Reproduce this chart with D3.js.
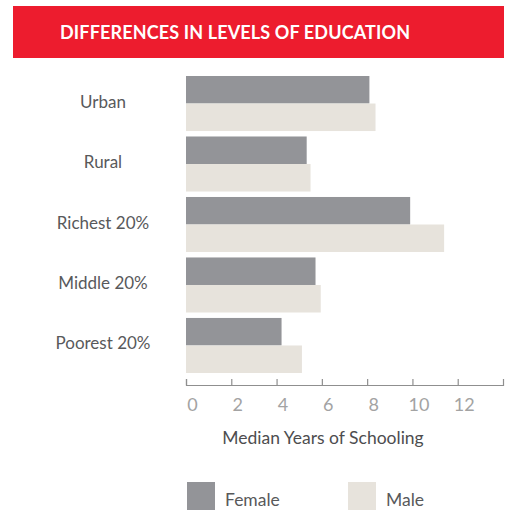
<!DOCTYPE html>
<html>
<head>
<meta charset="utf-8">
<script src="https://cdn.jsdelivr.net/npm/d3@7"></script>
<style>
  body { margin: 0; background: #fff; }
  svg { display: block; font-family: Lato, "Open Sans", sans-serif; }
</style>
</head>
<body>
<svg width="512" height="510"></svg>
<script>
let categories = ["Urban", "Rural", "Richest 20%", "Middle 20%", "Poorest 20%"];
let seriesNames = ["Female", "Male"];
let female = [8.1, 5.33, 9.9, 5.72, 4.22];
let male = [8.37, 5.5, 11.4, 5.95, 5.12];
let tickLabels = [0, 2, 4, 6, 8, 10, 12];
let title = "DIFFERENCES IN LEVELS OF EDUCATION";
let xTitle = "Median Years of Schooling";

let drawChart = function() {
	const colors = {Female: "#939498", Male: "#e7e3dc"};

	let svg = d3.select("svg");

	// title banner
	svg.append("rect")
		.attr("x", 13)
		.attr("y", 6)
		.attr("width", 491)
		.attr("height", 52)
		.attr("fill", "#ed1c2e");

	svg.append("text")
		.attr("x", 60)
		.attr("y", 39)
		.attr("fill", "#fff")
		.attr("textLength", 350)
		.attr("lengthAdjust", "spacing")
		.style("font-size", "18px")
		.style("font-weight", "bold")
		.text(title);

	let xScale = d3.scaleLinear()
		.domain([0, 14])
		.range([186, 503]);

	let yScale = d3.scaleBand()
		.domain(categories)
		.range([76, 373])
		.paddingInner(0.09)
		.paddingOuter(0);

	let subScale = d3.scaleBand()
		.domain(seriesNames)
		.range([0, yScale.bandwidth()]);

	let rows = categories.map((c, i) => ({cat: c, Female: female[i], Male: male[i]}));

	let groups = svg.selectAll("g.group")
		.data(rows)
		.enter()
		.append("g")
			.classed("group", true)
			.attr("transform", d => `translate(0, ${yScale(d.cat)})`);

	groups.selectAll("rect")
		.data(d => seriesNames.map(s => ({key: s, value: d[s]})))
		.enter()
		.append("rect")
			.attr("x", xScale(0))
			.attr("y", d => subScale(d.key))
			.attr("width", d => xScale(d.value) - xScale(0))
			.attr("height", subScale.bandwidth())
			.attr("fill", d => colors[d.key]);

	// category labels
	svg.selectAll("text.cat")
		.data(categories)
		.enter()
		.append("text")
			.classed("cat", true)
			.attr("x", 103)
			.attr("y", d => yScale(d) + yScale.bandwidth() / 2 + 4)
			.attr("text-anchor", "middle")
			.attr("fill", "#58595b")
			.style("font-size", "17px")
			.text(d => d);

	// x axis, ticks pointing up
	let xAxis = d3.axisBottom(xScale)
		.tickValues(tickLabels)
		.tickSize(-6)
		.tickSizeOuter(-6)
		.tickPadding(13);

	let axisG = svg.append("g")
		.attr("transform", "translate(0, 385)")
		.call(xAxis);

	axisG.select(".domain").attr("stroke", "#8f8f8f").attr("stroke-width", 1.2);
	axisG.selectAll(".tick line").attr("stroke", "#8f8f8f").attr("stroke-width", 1.2);
	axisG.selectAll(".tick text")
		.attr("dx", 6)
		.attr("fill", "#a3a3a3")
		.style("font-size", "18px")
		.style("font-family", "Lato, sans-serif");

	svg.append("text")
		.attr("x", 323)
		.attr("y", 444)
		.attr("text-anchor", "middle")
		.attr("fill", "#4d4d4f")
		.style("font-size", "17.5px")
		.text(xTitle);

	// legend
	let legendX = [187, 348];
	let legend = svg.selectAll("g.legend")
		.data(seriesNames)
		.enter()
		.append("g")
			.classed("legend", true)
			.attr("transform", (d, i) => `translate(${legendX[i]}, 482)`);

	legend.append("rect")
		.attr("width", 28)
		.attr("height", 28)
		.attr("fill", d => colors[d]);

	legend.append("text")
		.attr("x", 38)
		.attr("y", 24)
		.attr("fill", "#58595b")
		.style("font-size", "17.5px")
		.text(d => d);
}

drawChart();
</script>
</body>
</html>
